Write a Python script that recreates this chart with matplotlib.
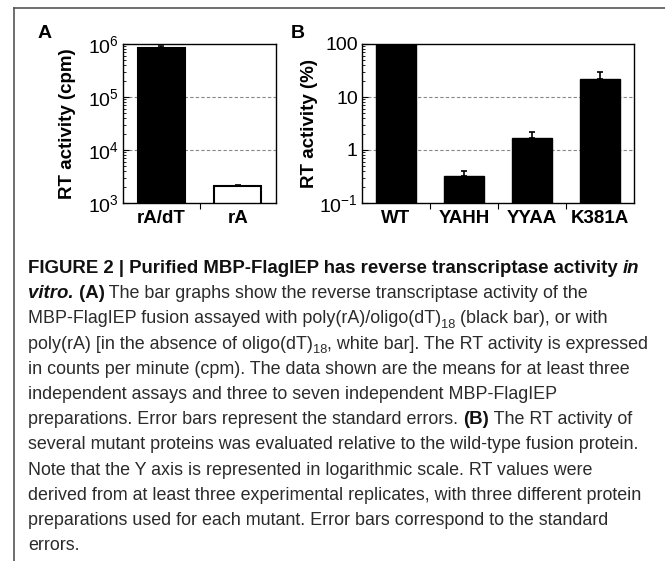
import matplotlib
matplotlib.use("Agg")
import matplotlib.pyplot as plt
from matplotlib.lines import Line2D
from matplotlib.font_manager import FontProperties
import matplotlib.ticker as mticker

# ---------------- data ----------------
cats_a = ["rA/dT", "rA"]
vals_a = [8.4e5, 2.1e3]
errs_a = [0.7e5, 0.12e3]
fill_a = ["black", "white"]
yticks_a = [1e3, 1e4, 1e5, 1e6]
yticklabels_a = [r"$10^{3}$", r"$10^{4}$", r"$10^{5}$", r"$10^{6}$"]
grid_a = [1e4, 1e5]

cats_b = ["WT", "YAHH", "YYAA", "K381A"]
vals_b = [100, 0.32, 1.7, 22]
errs_b = [0.5, 0.08, 0.5, 7.5]
yticks_b = [0.1, 1, 10, 100]
yticklabels_b = [r"$10^{-1}$", "1", "10", "100"]
grid_b = [1, 10]

caption_lines = [
    [("FIGURE 2 | Purified MBP-FlagIEP has reverse transcriptase activity ", "bold", "normal", False),
     ("in", "bold", "italic", False)],
    [("vitro.", "bold", "italic", False), (" (A)", "bold", "normal", False),
     (" The bar graphs show the reverse transcriptase activity of the", "normal", "normal", False)],
    [("MBP-FlagIEP fusion assayed with poly(rA)/oligo(dT)", "normal", "normal", False),
     ("18", "normal", "normal", True), (" (black bar), or with", "normal", "normal", False)],
    [("poly(rA) [in the absence of oligo(dT)", "normal", "normal", False),
     ("18", "normal", "normal", True),
     (", white bar]. The RT activity is expressed", "normal", "normal", False)],
    [("in counts per minute (cpm). The data shown are the means for at least three", "normal", "normal", False)],
    [("independent assays and three to seven independent MBP-FlagIEP", "normal", "normal", False)],
    [("preparations. Error bars represent the standard errors. ", "normal", "normal", False),
     ("(B)", "bold", "normal", False), (" The RT activity of", "normal", "normal", False)],
    [("several mutant proteins was evaluated relative to the wild-type fusion protein.", "normal", "normal", False)],
    [("Note that the Y axis is represented in logarithmic scale. RT values were", "normal", "normal", False)],
    [("derived from at least three experimental replicates, with three different protein", "normal", "normal", False)],
    [("preparations used for each mutant. Error bars correspond to the standard", "normal", "normal", False)],
    [("errors.", "normal", "normal", False)],
]

# ---------------- style ----------------
FAM = "Liberation Sans"
plt.rcParams["font.family"] = [FAM, "DejaVu Sans"]
plt.rcParams["mathtext.fontset"] = "custom"
plt.rcParams["mathtext.rm"] = FAM
plt.rcParams["mathtext.it"] = FAM + ":italic"
plt.rcParams["mathtext.bf"] = FAM + ":bold"

W, H = 665, 561
fig = plt.figure(figsize=(W / 100, H / 100), dpi=100)

def fx(px):
    return px / W

def fy(py):
    return 1 - py / H

# frame lines
fig.add_artist(Line2D([fx(14), fx(665)], [fy(8), fy(8)], color="#555555", lw=1.2))
fig.add_artist(Line2D([fx(14), fx(14)], [fy(8), fy(561)], color="#555555", lw=1.2))

TICK_FS = 14
LAB_FS = 13.5

def style_axes(ax, ncat, yticks, ylabels, grid_vals, ylim, ylabel, labx):
    ax.set_yscale("log")
    ax.set_ylim(*ylim)
    ax.set_xlim(-0.5, ncat - 0.5)
    ax.yaxis.set_major_locator(mticker.FixedLocator(yticks))
    ax.yaxis.set_major_formatter(mticker.FixedFormatter(ylabels))
    ax.yaxis.set_minor_locator(mticker.LogLocator(base=10, subs=range(2, 10), numticks=20))
    ax.yaxis.set_minor_formatter(mticker.NullFormatter())
    ax.tick_params(axis="y", which="major", direction="in", length=4, width=0.8,
                   labelsize=TICK_FS, pad=3)
    ax.tick_params(axis="y", which="minor", direction="in", length=2.5, width=0.6)
    ax.set_xticks(range(ncat))
    ax.set_xticks([i + 0.5 for i in range(ncat - 1)], minor=True)
    ax.tick_params(axis="x", which="major", length=0, pad=5)
    ax.tick_params(axis="x", which="minor", direction="out", length=4, width=0.8)
    for lab in ax.get_xticklabels():
        lab.set_fontweight("bold")
        lab.set_fontsize(LAB_FS)
    for g in grid_vals:
        ax.axhline(g, color="#888888", lw=0.8, ls=(0, (3, 2)), zorder=0)
    for s in ax.spines.values():
        s.set_linewidth(1.0)
        s.set_color("black")
    ax.set_ylabel(ylabel, fontsize=LAB_FS, fontweight="bold")
    ax.yaxis.set_label_coords(labx, 0.5)

# ---------------- panel A ----------------
axA = fig.add_axes([fx(123), fy(203), (276 - 123) / W, (203 - 44) / H])
xa = list(range(len(cats_a)))
axA.bar(xa, vals_a, width=0.62, color=fill_a, edgecolor="black", linewidth=1.5, zorder=2)
axA.errorbar(xa, vals_a, yerr=[[0] * len(errs_a), errs_a], fmt="none", ecolor="black",
             elinewidth=1.2, capsize=2.5, capthick=1.2, zorder=3)
axA.set_xticklabels(cats_a)
style_axes(axA, len(cats_a), yticks_a, yticklabels_a, grid_a, (1e3, 1e6),
           "RT activity (cpm)", -0.305)

# ---------------- panel B ----------------
axB = fig.add_axes([fx(362), fy(203), (634 - 362) / W, (203 - 44) / H])
xb = list(range(len(cats_b)))
axB.bar(xb, vals_b, width=0.6, color="black", edgecolor="black", linewidth=1.0, zorder=2)
axB.errorbar(xb, vals_b, yerr=[[0] * len(errs_b), errs_b], fmt="none", ecolor="black",
             elinewidth=1.2, capsize=2.5, capthick=1.2, zorder=3)
axB.set_xticklabels(cats_b)
style_axes(axB, len(cats_b), yticks_b, yticklabels_b, grid_b, (0.1, 100),
           "RT activity (%)", -0.16)

# panel letters
fig.text(fx(45), fy(33), "A", fontsize=14, fontweight="bold", ha="center", va="center")
fig.text(fx(298), fy(33), "B", fontsize=14, fontweight="bold", ha="center", va="center")

# ---------------- caption ----------------
renderer = fig.canvas.get_renderer()

def text_width(s, size, weight, style):
    prop = FontProperties(family=FAM, size=size, weight=weight, style=style)
    w1, _, _ = renderer.get_text_width_height_descent("|" + s + "|", prop, ismath=False)
    w2, _, _ = renderer.get_text_width_height_descent("||", prop, ismath=False)
    return w1 - w2

base = 12.0
cap_fs = base * 612.0 / text_width(caption_lines[7][0][0], base, "normal", "normal")
line1_w = sum(text_width(s, base, w, st) for s, w, st, _ in caption_lines[0])
bold_fs = base * 613.0 / line1_w

x0 = 28
y_first = 268
spacing = 25.2
for i, segs in enumerate(caption_lines):
    x = x0
    ybase = y_first + i * spacing + 5
    for s, weight, style, sub in segs:
        size = bold_fs if weight == "bold" else cap_fs
        if sub:
            size = cap_fs * 0.72
        dy = 4.5 if sub else 0
        col = "#111111" if weight == "bold" else "#2b2b2b"
        fig.text(fx(x), fy(ybase + dy), s, fontsize=size, fontweight=weight, fontstyle=style,
                 ha="left", va="baseline", color=col, family=FAM)
        x += text_width(s, size, weight, style)

fig.savefig("out.png", dpi=100)
